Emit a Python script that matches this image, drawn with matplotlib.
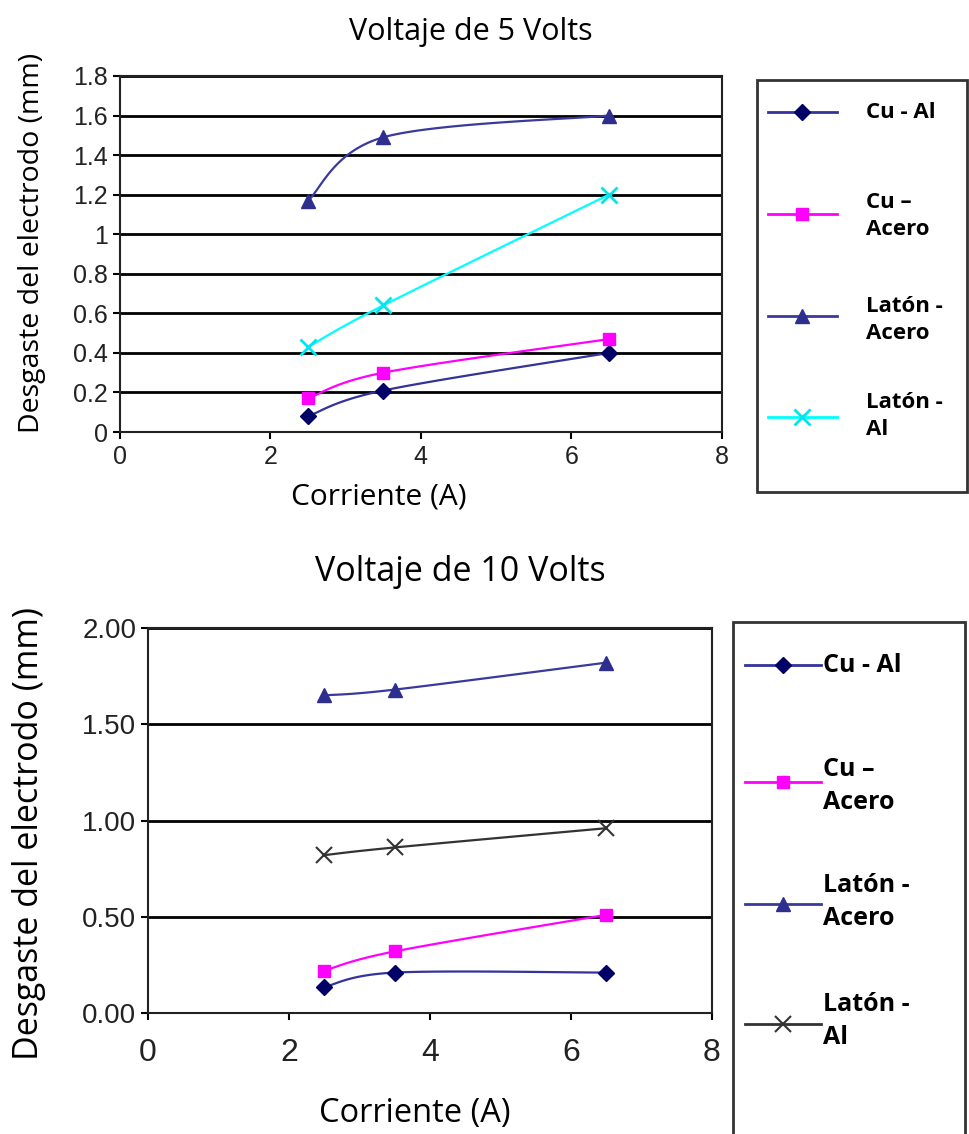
import numpy as np
import matplotlib
matplotlib.use("Agg")
import matplotlib.pyplot as plt
from matplotlib.lines import Line2D
from matplotlib.patches import Rectangle

# data
corriente = [2.5, 3.5, 6.5]
series_names = ["Cu - Al", "Cu \u2013\nAcero", "Lat\u00f3n -\nAcero", "Lat\u00f3n -\nAl"]

v5_cu_al = [0.08, 0.21, 0.40]
v5_cu_acero = [0.17, 0.30, 0.47]
v5_laton_acero = [1.17, 1.49, 1.60]
v5_laton_al = [0.43, 0.64, 1.20]

v10_cu_al = [0.135, 0.21, 0.21]
v10_cu_acero = [0.22, 0.32, 0.51]
v10_laton_acero = [1.65, 1.68, 1.82]
v10_laton_al = [0.82, 0.86, 0.96]

v5_yticks = [0, 0.2, 0.4, 0.6, 0.8, 1.0, 1.2, 1.4, 1.6, 1.8]
v5_ylabels = ["0", "0.2", "0.4", "0.6", "0.8", "1", "1.2", "1.4", "1.6", "1.8"]
v10_yticks = [0, 0.5, 1.0, 1.5, 2.0]
v10_ylabels = ["0.00", "0.50", "1.00", "1.50", "2.00"]
xticks = [0, 2, 4, 6, 8]

styles = [
    dict(color="#33339a", marker="D", mfc="#000066", mec="#000066", ms=8),
    dict(color="#ff00ff", marker="s", mfc="#ff00ff", mec="#ff00ff", ms=9),
    dict(color="#3a3a9c", marker="^", mfc="#2e2e8e", mec="#2e2e8e", ms=10),
]
cyan_style = dict(color="#00ffff", marker="x", mfc="#00e5ee", mec="#00e5ee", ms=11, mew=2)
gray_style = dict(color="#333333", marker="x", mfc="#333333", mec="#333333", ms=11, mew=1.5)

tick_font = ["Liberation Sans Narrow", "Liberation Sans"]
label_font = ["Open Sans", "DejaVu Sans"]


def smooth(x, y, n=40):
    # Catmull-Rom style smoothing like the spreadsheet "smoothed line"
    x = np.asarray(x, float)
    y = np.asarray(y, float)
    px = np.concatenate([[x[0]], x, [x[-1]]])
    py = np.concatenate([[y[0]], y, [y[-1]]])
    xs, ys = [], []
    t = np.linspace(0, 1, n)
    for i in range(1, len(px) - 2):
        mx0 = (px[i + 1] - px[i - 1]) / 2
        my0 = (py[i + 1] - py[i - 1]) / 2
        mx1 = (px[i + 2] - px[i]) / 2
        my1 = (py[i + 2] - py[i]) / 2
        h00 = 2 * t**3 - 3 * t**2 + 1
        h10 = t**3 - 2 * t**2 + t
        h01 = -2 * t**3 + 3 * t**2
        h11 = t**3 - t**2
        xs.append(h00 * px[i] + h10 * mx0 + h01 * px[i + 1] + h11 * mx1)
        ys.append(h00 * py[i] + h10 * my0 + h01 * py[i + 1] + h11 * my1)
    return np.concatenate(xs), np.concatenate(ys)


def draw(ax, data, st_list, yticks, ylabels, tfs, xfs, xpad):
    for vals, st in zip(data, st_list):
        sx, sy = smooth(corriente, vals)
        ax.plot(sx, sy, color=st["color"], lw=1.6, zorder=3)
        ax.plot(corriente, vals, ls="none", marker=st["marker"], mfc=st["mfc"],
                mec=st["mec"], ms=st["ms"], mew=st.get("mew", 1), zorder=4)
    ax.set_xlim(0, 8)
    ax.set_ylim(yticks[0], yticks[-1])
    ax.set_yticks(yticks)
    ax.set_yticklabels(ylabels, family=tick_font, fontsize=tfs, color="#222222")
    ax.set_xticks(xticks)
    ax.set_xticklabels([str(v) for v in xticks], family=tick_font, fontsize=xfs, color="#222222")
    ax.grid(axis="y", color="black", lw=2)
    ax.set_axisbelow(True)
    for s in ax.spines.values():
        s.set_linewidth(1.5)
        s.set_color("#222222")
    ax.tick_params(direction="out", length=5, width=1.5)
    ax.tick_params(axis="x", pad=xpad)


def legend_box(fig, bounds, st_list, ys, text_x, fs, text_ys, lsp):
    lax = fig.add_axes(bounds)
    lax.set_xlim(0, 1)
    lax.set_ylim(0, 1)
    lax.axis("off")
    lax.add_patch(Rectangle((0, 0), 1, 1, fill=False, ec="#333333", lw=2, transform=lax.transAxes, clip_on=False))
    for st, yy, name, ty in zip(st_list, ys, series_names, text_ys):
        lax.add_line(Line2D([0.05, 0.38], [yy, yy], color=st["color"], lw=2))
        lax.add_line(Line2D([0.215], [yy], marker=st["marker"], mfc=st["mfc"], mec=st["mec"],
                            ms=st["ms"], mew=st.get("mew", 1)))
        lax.text(text_x, ty, name, fontsize=fs, fontweight="bold", family=label_font,
                 va="center", ha="left", linespacing=lsp)


fig = plt.figure(figsize=(9.69, 11.34), dpi=100)

ax1 = fig.add_axes([0.1238, 0.619, 0.621, 0.314])
draw(ax1, [v5_cu_al, v5_cu_acero, v5_laton_acero, v5_laton_al],
     styles + [cyan_style], v5_yticks, v5_ylabels, 18, 18, 4)
ax1.set_title("Voltaje de 5 Volts", family=label_font, fontsize=22, pad=26, x=0.583)
ax1.set_xlabel("Corriente (A)", family=label_font, fontsize=21.5, labelpad=10)
ax1.xaxis.label.set_x(0.43)
ax1.set_ylabel("Desgaste del electrodo (mm)", family=label_font, fontsize=20.5, labelpad=20)
ax1.yaxis.label.set_y(0.53)

ax2 = fig.add_axes([0.1527, 0.1067, 0.582, 0.3395])
draw(ax2, [v10_cu_al, v10_cu_acero, v10_laton_acero, v10_laton_al],
     styles + [gray_style], v10_yticks, v10_ylabels, 20, 23, 13)
ax2.set_title("Voltaje de 10 Volts", family=label_font, fontsize=24.5, pad=34, x=0.553)
ax2.set_xlabel("Corriente (A)", family=label_font, fontsize=23.5, labelpad=21)
ax2.xaxis.label.set_x(0.473)
ax2.set_ylabel("Desgaste del electrodo (mm)", family=label_font, fontsize=24.5, labelpad=26)
ax2.yaxis.label.set_y(0.466)

# legend boxes
legend_box(fig, [757 / 969, 1 - 492 / 1134, 210 / 969, 412 / 1134], styles + [cyan_style],
           [1 - 32 / 412, 1 - 134 / 412, 1 - 236 / 412, 1 - 337 / 412], 0.52, 16,
           [1 - 32 / 412, 1 - 136 / 412, 1 - 240 / 412, 1 - 336 / 412], 1.4)
legend_box(fig, [733 / 969, 1 - 1140 / 1134, 232 / 969, 518 / 1134], styles + [gray_style],
           [1 - 43 / 518, 1 - 160 / 518, 1 - 282 / 518, 1 - 402 / 518], 0.39, 18,
           [1 - 43 / 518, 1 - 164 / 518, 1 - 280 / 518, 1 - 399 / 518], 1.4)

fig.savefig("out.png", dpi=100)
